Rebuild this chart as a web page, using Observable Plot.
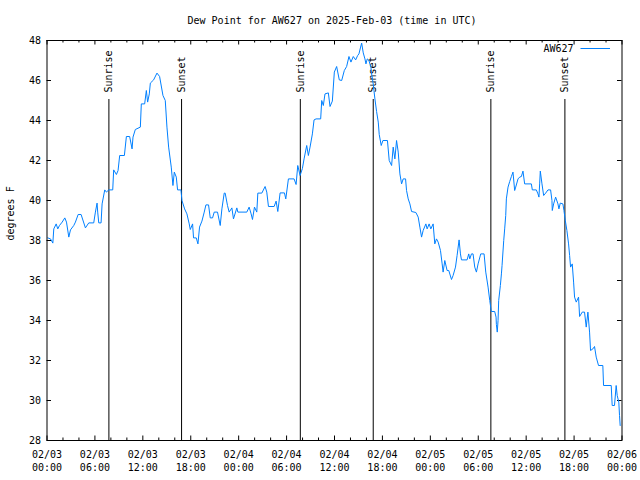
<!DOCTYPE html>
<html>
<head>
<meta charset="utf-8">
<script src="https://cdn.jsdelivr.net/npm/d3@7"></script>
<script src="https://cdn.jsdelivr.net/npm/@observablehq/plot@0.6"></script>
<style>
  html, body { margin: 0; padding: 0; background: white; }
</style>
</head>
<body>
<div id="chart"></div>
<script>
const titleText = "Dew Point for AW627 on 2025-Feb-03 (time in UTC)";
const seriesName = "AW627";
const yLabel = "degrees F";

// hours since 2025-02-03 00:00 UTC
const hours = [0.1,0.44,0.73,0.85,1.15,1.35,1.56,1.9,2.23,2.44,2.73,2.94,3.35,3.56,3.9,4.27,4.81,5.23,5.85,6.06,6.27,6.35,6.48,6.77,6.9,7.23,7.44,7.73,8.23,8.35,8.69,8.9,9.1,9.69,9.94,10.35,10.65,10.77,11.06,11.69,11.81,12.23,12.44,12.6,12.81,12.94,13.35,13.77,14.1,14.52,14.81,15.02,15.23,15.56,15.77,15.94,16.19,16.35,16.77,
16.9,17.23,17.52,17.81,17.94,18.23,18.35,18.69,18.9,19.1,19.4,19.69,19.9,20.23,20.44,20.73,20.94,21.35,21.69,21.9,22.19,22.31,22.6,22.81,23.15,23.35,23.77,23.9,25.02,25.31,25.56,25.73,25.98,26.27,26.4,26.9,27.31,27.52,27.73,28.44,28.69,28.9,29.19,29.73,29.9,30.23,30.94,31.19,31.4,31.69,31.98,32.19,32.52,32.73,32.94,33.23,33.44,33.69,34.27,34.4,34.6,34.81,35.23,35.44,35.73,35.98,36.27,36.6,36.9,37.23,37.52,37.81,38.06,38.35,38.65,38.9,39.06,39.27,39.4,39.6,39.81,39.94,40.1,40.31,40.56,40.65,40.85,40.94,41.06,41.27,41.48,41.6,41.85,42.06,42.63,42.85,43.15,43.35,43.56,43.77,43.98,44.19,44.4,44.6,44.9,45.02,45.23,45.44,45.65,46.19,46.48,46.69,46.9,47.1,47.44,47.6,47.85,48.06,48.35,48.56,48.77,48.98,49.27,49.48,49.6,49.81,50.1,50.31,50.65,50.85,51.15,51.35,51.6,51.77,51.9,52.6,52.81,52.94,53.15,53.35,53.56,53.77,53.98,54.31,54.73,54.94,55.23,55.44,55.63,56.06,56.23,56.27,56.38,56.48,56.56,56.77,56.9,56.98,57.19,57.31,57.44,57.52,57.73,57.94,58.15,58.35,58.56,58.69,58.98,59.19,59.4,59.6,59.81,60.65,60.77,61.27,61.48,61.6,61.69,61.77,61.98,62.19,62.44,62.73,63.06,63.23,63.27,63.44,63.69,63.98,64.1,64.27,64.6,64.73,64.9,65.1,65.31,65.44,65.56,65.77,65.94,66.06,66.27,66.56,66.69,67.02,67.31,67.52,67.73,67.94,68.06,68.35,68.56,68.77,69.06,69.6,69.69,70.65,70.77,71.06,71.27,71.4,71.6,71.69,71.77];

const dewF = [38.13,38.08,37.87,38.58,38.83,38.58,38.75,38.92,39.13,38.92,38.17,38.53,38.75,38.92,39.3,39.3,38.63,38.88,38.88,39.42,39.87,39.42,38.88,38.88,39.83,40.53,40.42,40.53,40.53,41.53,41.3,41.5,42.25,42.25,43.2,43.2,42.58,43.17,43.55,43.67,44.83,44.83,45.5,44.92,45.33,45.87,46.03,46.37,46.2,45.25,45.0,43.67,42.67,41.67,40.75,41.42,41.17,40.53,40.53,
40.0,39.58,39.33,38.83,38.55,38.83,38.13,38.13,37.83,38.67,38.97,39.42,39.78,39.78,39.13,39.13,39.42,39.42,38.75,39.58,40.37,40.37,39.75,39.42,39.63,39.08,39.63,39.42,39.42,39.67,39.33,39.05,39.67,39.42,40.37,40.37,40.7,40.42,39.7,39.7,39.97,39.45,40.38,40.38,40.08,41.08,41.08,40.8,41.75,41.25,41.6,42.08,42.75,42.25,42.67,43.33,44.03,44.08,44.08,45.0,44.75,45.33,45.38,44.7,44.97,46.42,46.7,46.03,46.0,46.5,46.7,47.2,46.92,47.2,47.03,47.25,47.33,47.67,47.87,47.38,47.08,46.83,47.08,47.0,46.67,46.33,45.83,45.5,45.08,44.45,43.92,43.3,42.75,43.0,43.0,42.0,41.75,42.67,42.08,43.0,42.42,41.33,40.83,41.08,41.08,40.5,40.08,39.83,39.45,39.4,39.17,38.67,38.17,38.5,38.83,38.58,38.83,38.58,38.83,37.83,38.08,37.92,37.5,36.83,36.42,37.0,36.5,36.5,36.05,36.25,36.67,37.25,38.03,37.33,37.03,37.03,37.33,37.08,37.33,37.33,36.67,36.42,36.83,37.33,37.33,36.42,35.67,35.0,34.45,34.45,34.17,33.8,33.42,34.0,35.0,35.75,36.33,36.75,38.0,38.58,39.25,40.08,40.67,40.95,41.2,41.42,40.5,40.67,41.08,41.17,41.2,41.47,40.83,40.83,40.53,40.53,40.33,40.17,40.83,41.47,40.83,40.25,40.37,40.53,40.53,40.0,39.5,39.83,40.17,39.83,39.58,39.87,39.83,39.5,39.0,38.5,37.83,37.25,36.67,36.83,35.92,35.17,34.92,35.17,34.2,34.42,34.42,33.67,34.42,33.42,32.5,32.58,32.7,32.17,31.75,31.75,30.75,30.75,29.75,29.75,30.75,30.25,29.92,29.25,28.75];

const sunTimes = [7.75, 16.85, 31.72, 40.85, 55.58, 64.85];
const sunLabels = ["Sunrise", "Sunset", "Sunrise", "Sunset", "Sunrise", "Sunset"];

const xMajorTicks = [0,6,12,18,24,30,36,42,48,54,60,66,72];
const xMinorTicks = [2,4,8,10,14,16,20,22,26,28,32,34,38,40,44,46,50,52,56,58,62,64,68,70];
const xDateLabels = ["02/03","02/03","02/03","02/03","02/04","02/04","02/04","02/04","02/05","02/05","02/05","02/05","02/06"];
const xTimeLabels = ["00:00","06:00","12:00","18:00","00:00","06:00","12:00","18:00","00:00","06:00","12:00","18:00","00:00"];
const yTicks = [28,30,32,34,36,38,40,42,44,46,48];

const data = hours.map((h, i) => ({h, v: dewF[i]}));
const sunData = sunTimes.map((t, i) => ({t, label: sunLabels[i]}));

const W = 640, H = 480, mL = 46.5, mR = 18.5, mT = 40, mB = 40;
const plotH = H - mT - mB, plotW = W - mL - mR;
const lineColor = "#0080ff";

const chart = Plot.plot({
  width: W, height: H,
  marginLeft: mL, marginRight: mR, marginTop: mT, marginBottom: mB,
  x: {domain: [0, 72]},
  y: {domain: [28, 48]},
  style: {fontFamily: "'DejaVu Sans Mono', monospace", fontSize: "10px", background: "white", color: "black"},
  marks: [
    // inward ticks
    Plot.ruleX(xMajorTicks, {x: d => d, insetTop: plotH - 4.5, stroke: "black"}),
    Plot.ruleX(xMajorTicks, {x: d => d, insetBottom: plotH - 4.5, stroke: "black"}),
    Plot.ruleX(xMinorTicks, {x: d => d, insetTop: plotH - 2.5, stroke: "black"}),
    Plot.ruleX(xMinorTicks, {x: d => d, insetBottom: plotH - 2.5, stroke: "black"}),
    Plot.ruleY(yTicks, {y: d => d, insetRight: plotW - 4.5, stroke: "black"}),
    Plot.ruleY(yTicks, {y: d => d, insetLeft: plotW - 4.5, stroke: "black"}),
    Plot.axisY({ticks: yTicks, tickSize: 0, tickPadding: 6, label: null, tickFormat: d => String(d)}),
    Plot.axisX({ticks: xMajorTicks, tickSize: 0, tickPadding: 10, label: null, tickFormat: d => xDateLabels[xMajorTicks.indexOf(d)]}),
    Plot.axisX({ticks: xMajorTicks, tickSize: 0, tickPadding: 23, label: null, tickFormat: d => xTimeLabels[xMajorTicks.indexOf(d)]}),
    // sunrise / sunset
    Plot.ruleX(sunData, {x: "t", insetTop: 59, stroke: "black", strokeWidth: 1}),
    Plot.text(sunData, {x: "t", text: "label", frameAnchor: "top", dy: 52, rotate: -90, textAnchor: "start", lineAnchor: "middle", fill: "black"}),
    // series
    Plot.line(data, {x: "h", y: "v", stroke: lineColor, strokeWidth: 1}),
    Plot.frame({stroke: "black"}),
    // title, y label, legend text
    Plot.text([titleText], {frameAnchor: "top", dx: -2.5, dy: -20, lineAnchor: "middle", fill: "black"}),
    Plot.text([yLabel], {frameAnchor: "left", dx: -36.5, rotate: -90, lineAnchor: "middle", fill: "black"}),
    Plot.text([seriesName], {frameAnchor: "top-right", dx: -48.5, dy: 8.5, textAnchor: "end", lineAnchor: "middle", fill: "black"})
  ]
});

d3.select(chart).append("line")
  .attr("x1", W - mR - 41).attr("x2", W - mR - 11.5)
  .attr("y1", mT + 8.5).attr("y2", mT + 8.5)
  .attr("stroke", lineColor).attr("stroke-width", 1);

document.getElementById("chart").appendChild(chart);
</script>
</body>
</html>
